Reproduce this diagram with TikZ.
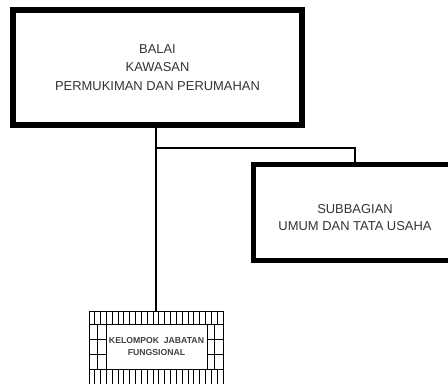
\documentclass[tikz,border=0pt]{standalone}
\usepackage{fontspec}
\setmainfont{Liberation Sans}
\usetikzlibrary{calc}

\tikzset{
  kotaktebal/.style={draw, line width=4.5pt, fill=white, align=center, text=black!80, inner sep=0pt},
  garis/.style={line width=1.6pt},
  kisi/.style={line width=0.75pt},
}

\begin{document}
\begin{tikzpicture}[x=0.75pt,y=-0.75pt]
    %%%%% START %%%%%
    \clip (0,0) rectangle (448,383);

    \node[kotaktebal, minimum width=216.75pt, minimum height=86.25pt, font=\fontsize{9.7}{13.9}\selectfont] (balai) at (157.5,67.5) {BALAI\\KAWASAN\\PERMUKIMAN DAN PERUMAHAN};

    \node[kotaktebal, line width=3.75pt, minimum width=153pt, minimum height=72pt, font=\fontsize{9.7}{12.75}\selectfont] (subbag) at (355,212)
        {\begin{tabular}{@{}c@{}}\rule{0pt}{19.4pt}SUBBAGIAN\\UMUM DAN TATA USAHA\end{tabular}};

    % kotak berkisi
    \node[draw, kisi, minimum width=100.5pt, minimum height=55.5pt, inner sep=0pt] (kjf) at (156,348) {};
    \foreach \i in {1,...,22}
        \draw[kisi] ({89+\i*5.826},311) -- ++(0,13) ({89+\i*5.826},369) -- ++(0,16);
    \draw[kisi] (89,324) -- (223,324) (89,369) -- (223,369);
    \draw[kisi] (97.5,324) -- (97.5,369) (214.5,324) -- (214.5,369);
    \draw[kisi] (89,339) -- (106,339) (89,354) -- (106,354);
    \draw[kisi] (207,339) -- (223,339) (207,354) -- (223,354);
    \node[draw, kisi, fill=white, minimum width=75.75pt, minimum height=33.75pt, inner sep=0pt, align=center, text=black!75, font=\fontsize{6.5}{9}\selectfont\bfseries] (kjfteks) at (156.5,346.5) {KELOMPOK\ \ JABATAN\\FUNGSIONAL};

    % garis
    \coordinate (cabang) at (kjf.north |- 0,148);
    \draw[garis] (kjf.north) -- (kjf.north |- balai.south);
    \draw[garis] (cabang) -| (subbag.north);

    %%%%% END %%%%%
\end{tikzpicture}
\end{document}
